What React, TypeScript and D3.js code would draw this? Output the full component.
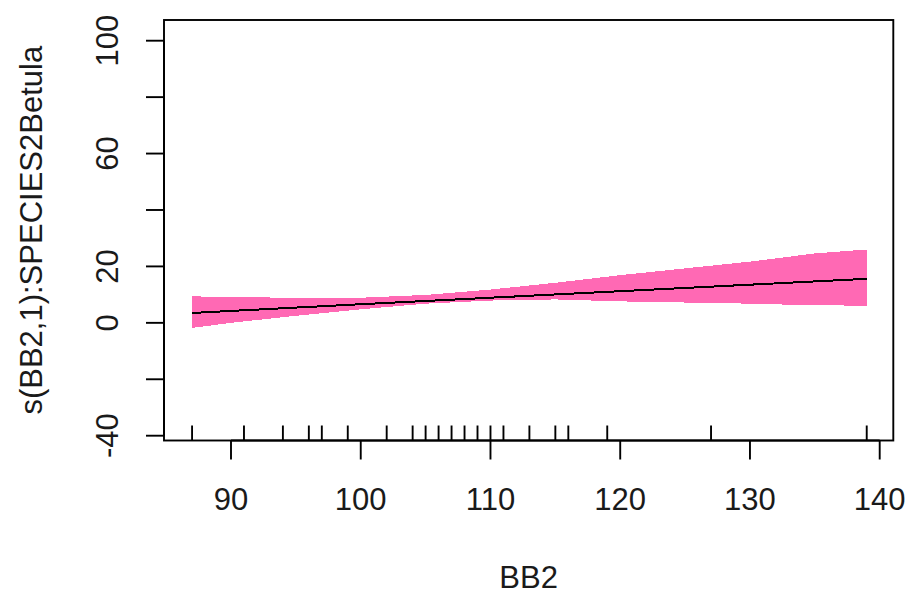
import { useEffect, useRef } from "react";
import * as d3 from "d3";

// smooth term s(BB2,1) for SPECIES2Betula
const bandX = [87, 90, 95, 100, 105, 110, 115, 120, 125, 130, 135, 139];
const bandLower = [-1.8, 0.0, 2.5, 4.8, 6.8, 7.9, 8.3, 7.6, 7.2, 6.8, 6.2, 6.1];
const bandUpper = [9.4, 9.1, 8.9, 8.9, 9.9, 11.8, 14.2, 16.9, 19.3, 21.7, 24.6, 26.0];

const fitX = [87, 100, 113, 126, 139];
const fitY = [3.5, 6.6, 9.6, 12.6, 15.6];

// observed BB2 values (rug)
const rugX = [87, 91, 94, 96, 97, 99, 102, 104, 105, 106, 107, 108, 109, 110, 111, 113, 115, 116, 119, 127, 139];

const xTicks = [90, 100, 110, 120, 130, 140];
const yTicks = [-40, -20, 0, 20, 40, 60, 80, 100];
const yLabelled = [-40, 0, 20, 60, 100];

const W = 911;
const H = 595;
const FONT = "'Liberation Sans', Arial, sans-serif";

export default function App() {
  const ref = useRef<SVGSVGElement>(null);

  useEffect(() => {
    const svg = d3.select(ref.current);
    svg.selectAll("*").remove();

    const box = { left: 164, right: 893.3, top: 20, bottom: 440.5 };

    const x = d3.scaleLinear().domain([90, 140]).range([231, 879.7]);
    const y = d3.scaleLinear().domain([-40, 100]).range([435.7, 40.7]);

    const band = bandX.map((v, i) => ({ x: v, lo: bandLower[i], hi: bandUpper[i] }));
    const fit = fitX.map((v, i) => ({ x: v, y: fitY[i] }));

    const area = d3
      .area<{ x: number; lo: number; hi: number }>()
      .x((d) => x(d.x))
      .y0((d) => y(d.lo))
      .y1((d) => y(d.hi));

    svg
      .append("path")
      .attr("d", area(band))
      .attr("fill", "#ff69b4")
      .attr("shape-rendering", "crispEdges");

    const line = d3
      .line<{ x: number; y: number }>()
      .x((d) => x(d.x))
      .y((d) => y(d.y));

    svg
      .append("path")
      .attr("d", line(fit))
      .attr("fill", "none")
      .attr("stroke", "#000")
      .attr("stroke-width", 2)
      .attr("shape-rendering", "crispEdges");

    // rug
    svg
      .append("g")
      .selectAll("line")
      .data(rugX)
      .enter()
      .append("line")
      .attr("x1", (d) => x(d))
      .attr("x2", (d) => x(d))
      .attr("y1", box.bottom)
      .attr("y2", box.bottom - 15)
      .attr("stroke", "#000")
      .attr("stroke-width", 1.9);

    // frame
    svg
      .append("rect")
      .attr("x", box.left)
      .attr("y", box.top)
      .attr("width", box.right - box.left)
      .attr("height", box.bottom - box.top)
      .attr("fill", "none")
      .attr("stroke", "#000")
      .attr("stroke-width", 1.9);

    // x axis
    const gx = svg.append("g");
    gx.append("line")
      .attr("x1", x(90))
      .attr("x2", x(140))
      .attr("y1", box.bottom)
      .attr("y2", box.bottom)
      .attr("stroke", "#000")
      .attr("stroke-width", 1.9);
    gx.selectAll(".tk")
      .data(xTicks)
      .enter()
      .append("line")
      .attr("x1", (d) => x(d))
      .attr("x2", (d) => x(d))
      .attr("y1", box.bottom)
      .attr("y2", box.bottom + 19)
      .attr("stroke", "#000")
      .attr("stroke-width", 1.9);
    gx.selectAll("text")
      .data(xTicks)
      .enter()
      .append("text")
      .attr("x", (d) => x(d))
      .attr("y", 510)
      .attr("text-anchor", "middle")
      .attr("font-family", FONT)
      .attr("font-size", 31)
      .attr("fill", "#1a1a1a")
      .text((d) => d);

    // y axis
    const gy = svg.append("g");
    gy.append("line")
      .attr("x1", box.left)
      .attr("x2", box.left)
      .attr("y1", y(-40))
      .attr("y2", y(100))
      .attr("stroke", "#000")
      .attr("stroke-width", 1.9);
    gy.selectAll(".tk")
      .data(yTicks)
      .enter()
      .append("line")
      .attr("x1", box.left)
      .attr("x2", box.left - 18)
      .attr("y1", (d) => y(d))
      .attr("y2", (d) => y(d))
      .attr("stroke", "#000")
      .attr("stroke-width", 1.9);
    gy.selectAll("text")
      .data(yLabelled)
      .enter()
      .append("text")
      .attr("transform", (d) => `translate(118,${y(d)}) rotate(-90)`)
      .attr("text-anchor", "middle")
      .attr("font-family", FONT)
      .attr("font-size", 31)
      .attr("fill", "#1a1a1a")
      .text((d) => d);

    // titles
    svg
      .append("text")
      .attr("x", (box.left + box.right) / 2)
      .attr("y", 588)
      .attr("text-anchor", "middle")
      .attr("font-family", FONT)
      .attr("font-size", 31)
      .attr("fill", "#1a1a1a")
      .text("BB2");

    svg
      .append("text")
      .attr("transform", `translate(42,${(box.top + box.bottom) / 2}) rotate(-90)`)
      .attr("text-anchor", "middle")
      .attr("font-family", FONT)
      .attr("font-size", 31)
      .attr("fill", "#1a1a1a")
      .text("s(BB2,1):SPECIES2Betula");
  }, []);

  return (
    <svg
      ref={ref}
      width={W}
      height={H}
      style={{ position: "absolute", left: 0, top: 0, background: "#fff" }}
    ></svg>
  );
}
